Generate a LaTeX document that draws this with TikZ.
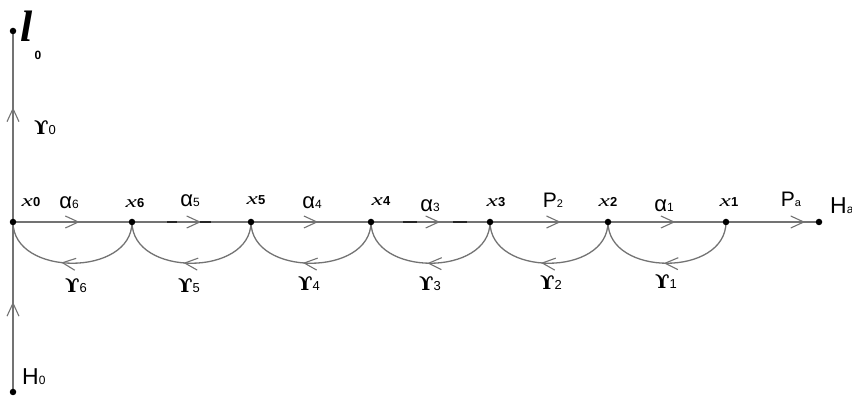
\documentclass[tikz,border=0pt]{standalone}
\usepackage{fontspec}
\usepackage{graphicx}
\setmainfont{Liberation Serif}
\newfontfamily\arialf{Liberation Sans}
\newfontfamily\dvsf{DejaVu Serif}
\usetikzlibrary{arrows.meta,decorations.markings}
\definecolor{lgray}{RGB}{115,115,115}
\pgfdeclarelayer{bg}
\pgfsetlayers{bg,main}
\newcommand\xlab[1]{{\fontsize{17}{17}\selectfont\scalebox{1.5}[1]{\textit{x}}}{\arialf\bfseries\fontsize{13}{13}\selectfont #1}}
\newcommand\alab[1]{{\arialf\fontsize{22}{22}\selectfont α}{\arialf\fontsize{12}{12}\selectfont #1}}
\newcommand\ulab[1]{{\dvsf\bfseries\fontsize{19}{19}\selectfont ϒ}{\arialf\fontsize{13}{13}\selectfont #1}}
\begin{document}
\begin{tikzpicture}[x=1pt,y=1pt,
  dot/.style={circle,fill=black,inner sep=0pt,minimum size=6.5pt},
  mainln/.style={draw=lgray,line width=2pt},
  arcln/.style={draw=lgray,line width=1.3pt},
  midarrow/.style={postaction={decorate},decoration={markings,mark=at position #1 with {\arrow{Straight Barb[length=13pt,width=12pt,line width=1.1pt]}}}},
  lbl/.style={inner sep=0pt,anchor=center}]
\useasboundingbox (0,0) rectangle (852,398);
% points
\node[dot] (top) at (13,367) {};
\node[dot] (bot) at (13,6) {};
\node[dot] (n0) at (13,176) {};
\node[dot] (n6) at (132,176) {};
\node[dot] (n5) at (251,176) {};
\node[dot] (n4) at (371,176) {};
\node[dot] (n3) at (490,176) {};
\node[dot] (n2) at (608,176) {};
\node[dot] (n1) at (726,176) {};
\node[dot] (ha) at (819,176) {};
\begin{pgfonlayer}{bg}
% vertical axis
\draw[mainln,line width=1.6pt,midarrow=0.6] (n0.center) -- (top.center);
\draw[mainln,line width=1.6pt,midarrow=0.53] (bot.center) -- (n0.center);
% main line
\draw[mainln,midarrow=0.56] (n0.center) -- (n6.center);
\draw[mainln,midarrow=0.58] (n6.center) -- (n5.center);
\draw[mainln,midarrow=0.56] (n5.center) -- (n4.center);
\draw[mainln,midarrow=0.58] (n4.center) -- (n3.center);
\draw[mainln,midarrow=0.6] (n3.center) -- (n2.center);
\draw[mainln,midarrow=0.57] (n2.center) -- (n1.center);
\draw[mainln,midarrow=0.85] (n1.center) -- (ha.center);
% dark strokes on the line
\draw[black!85,line width=1.6pt] (167,176) -- (177,176) (200,176) -- (211,176);
\draw[black!85,line width=1.6pt] (403,176) -- (417,176) (453,176) -- (467,176);
% arcs below
\draw[arcln,midarrow=0.57] (n6.center) .. controls +(0,-55) and +(0,-55) .. (n0.center);
\draw[arcln,midarrow=0.55] (n5.center) .. controls +(0,-55) and +(0,-55) .. (n6.center);
\draw[arcln,midarrow=0.55] (n4.center) .. controls +(0,-55) and +(0,-55) .. (n5.center);
\draw[arcln,midarrow=0.52] (n3.center) .. controls +(0,-55) and +(0,-55) .. (n4.center);
\draw[arcln,midarrow=0.55] (n2.center) .. controls +(0,-55) and +(0,-55) .. (n3.center);
\draw[arcln,midarrow=0.52] (n1.center) .. controls +(0,-55) and +(0,-55) .. (n2.center);
\end{pgfonlayer}
% labels
\node[lbl] (ll) at (27,372) {\fontsize{44}{44}\selectfont\bfseries\itshape l};
\node[lbl] (l0) at (38,343) {\arialf\bfseries\fontsize{12}{12}\selectfont 0};
\node[lbl] (u0) at (45,271) {\ulab{0}};
\node[lbl] (lx0) at (31,196) {\xlab{0}};
\node[lbl] (la6) at (69,195) {\alab{6}};
\node[lbl] (lx6) at (135,195) {\xlab{6}};
\node[lbl] (la5) at (190,197) {\alab{5}};
\node[lbl] (lx5) at (256,198) {\xlab{5}};
\node[lbl] (la4) at (312,195) {\alab{4}};
\node[lbl] (lx4) at (381,197) {\xlab{4}};
\node[lbl] (la3) at (430,192) {\alab{3}};
\node[lbl] (lx3) at (496,196) {\xlab{3}};
\node[lbl] (lp2) at (553,198) {\arialf\fontsize{21}{21}\selectfont P\fontsize{11}{11}\selectfont 2};
\node[lbl] (lx2) at (608,196) {\xlab{2}};
\node[lbl] (la1) at (664,192) {\alab{1}};
\node[lbl] (lx1) at (729,196) {\xlab{1}};
\node[lbl] (lpa) at (791,199) {\arialf\fontsize{21}{21}\selectfont P\fontsize{11}{11}\selectfont a};
\node[lbl,anchor=west] (lha) at (830,192) {\arialf\fontsize{23}{23}\selectfont H\fontsize{12}{12}\selectfont a};
\node[lbl] (u6) at (76,113) {\ulab{6}};
\node[lbl] (u5) at (189,113) {\ulab{5}};
\node[lbl] (u4) at (309,115) {\ulab{4}};
\node[lbl] (u3) at (430,115) {\ulab{3}};
\node[lbl] (u2) at (551,116) {\ulab{2}};
\node[lbl] (u1) at (666,117) {\ulab{1}};
\node[lbl,anchor=west] (lh0) at (22,21) {\arialf\fontsize{23}{23}\selectfont H\fontsize{12}{12}\selectfont 0};
\end{tikzpicture}
\end{document}
